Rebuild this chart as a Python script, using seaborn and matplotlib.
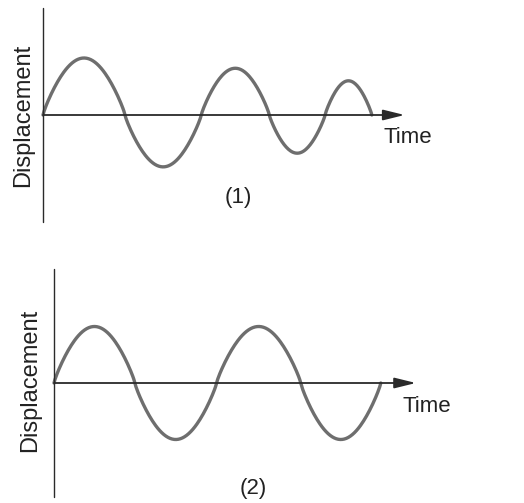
import numpy as np
import pandas as pd
import matplotlib.pyplot as plt
import seaborn as sns

# Zero crossings (time units) and the peak displacement of each half-cycle
wave1_crossings = [0.0, 1.0, 1.93, 2.76, 3.44, 4.01]
wave1_peaks = [1.0, -0.91, 0.82, -0.67, 0.60]

wave2_crossings = [0.0, 0.99, 1.99, 3.02, 4.0]
wave2_peaks = [1.0, -1.0, 1.0, -1.0]

panel_labels = ['(1)', '(2)']


def half_cycles(crossings, peaks, n=80):
    # each half-cycle drawn as a (slightly broadened) half sine
    rows = []
    for i, amp in enumerate(peaks):
        t0, t1 = crossings[i], crossings[i + 1]
        for k in np.linspace(0, 1, n):
            rows.append({'time': t0 + (t1 - t0) * k,
                         'disp': amp * np.sin(np.pi * k) ** 0.85})
    return pd.DataFrame(rows)


sns.set_theme(style='white')
plt.rcParams['font.family'] = ['Liberation Sans', 'DejaVu Sans']

fig = plt.figure(figsize=(5.24, 5.03), dpi=100)
text_color = '#222222'
wave_color = '#6e6e6e'
axis_color = '#2a2a2a'


def draw_panel(ax, crossings, peaks, label, xlim, ylim, yspan, x_end, time_pos, label_pos, disp_pos):
    df = half_cycles(crossings, peaks)
    sns.lineplot(data=df, x='time', y='disp', sort=False, ax=ax,
                 color=wave_color, linewidth=2.4, estimator=None)
    ax.plot([0, 0], yspan, color=axis_color, linewidth=1.0)
    ax.annotate('', xy=(x_end, 0), xytext=(0, 0),
                arrowprops=dict(arrowstyle='-|>,head_length=1.3,head_width=0.32',
                                color=axis_color, lw=1.3, mutation_scale=10,
                                shrinkA=0, shrinkB=0))
    ax.text(time_pos[0], time_pos[1], 'Time', fontsize=16, color=text_color,
            ha='left', va='center')
    ax.text(label_pos[0], label_pos[1], label, fontsize=16, color=text_color,
            ha='center', va='center')
    ax.text(disp_pos[0], disp_pos[1], 'Displacement', fontsize=17, color=text_color,
            ha='center', va='center', rotation=90)
    ax.set_xlim(*xlim)
    ax.set_ylim(*ylim)
    ax.set_axis_off()


ax1 = fig.add_axes([0, 251.5 / 503, 1, 251.5 / 503])
draw_panel(ax1, wave1_crossings, wave1_peaks, panel_labels[0],
           xlim=(-43 / 82, (524 - 43) / 82), ylim=(-(251.5 - 115) / 57, 115 / 57),
           yspan=(-1.88, 1.88), x_end=4.41,
           time_pos=(4.15, -0.40), label_pos=(2.38, -1.44), disp_pos=(-0.244, 0.0))

ax2 = fig.add_axes([0, 0, 1, 251.5 / 503])
draw_panel(ax2, wave2_crossings, wave2_peaks, panel_labels[1],
           xlim=(-54 / 81.7, (524 - 54) / 81.7), ylim=(-(503 - 383) / 56.5, (383 - 251.5) / 56.5),
           yspan=(-2.02, 2.02), x_end=4.43,
           time_pos=(4.27, -0.42), label_pos=(2.44, -1.86), disp_pos=(-0.294, 0.05))

fig.savefig('out.png', dpi=100)
plt.close(fig)
